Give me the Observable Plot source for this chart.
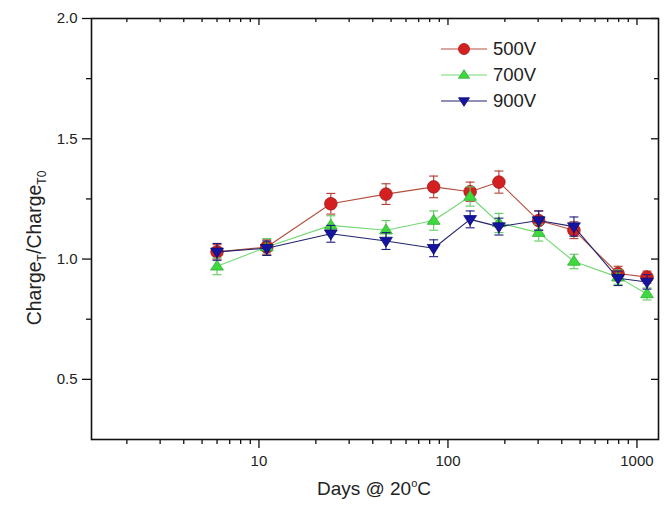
<!DOCTYPE html>
<html>
<head>
<meta charset="utf-8">
<script src="https://cdn.jsdelivr.net/npm/d3@7"></script>
<script src="https://cdn.jsdelivr.net/npm/@observablehq/plot@0.6"></script>
<style>
  html, body { margin: 0; padding: 0; background: #fff; }
  #wrap { position: relative; width: 664px; height: 508px; font-family: "Liberation Sans", Arial, sans-serif; }
  #legend { position: absolute; left: 441px; top: 36px; font-size: 18.5px; color: #222; }
  #legend .row { display: flex; align-items: center; height: 26px; }
  #legend svg { display: block; margin-right: 4px; }
</style>
</head>
<body>
<div id="wrap"></div>
<script>
// ---- data ----
const days = [6, 11, 24, 47, 84, 131, 186, 302, 464, 794, 1130];
const v500 = [1.03, 1.05, 1.23, 1.27, 1.30, 1.28, 1.32, 1.16, 1.12, 0.94, 0.925];
const e500 = [0.03, 0.03, 0.043, 0.043, 0.045, 0.04, 0.046, 0.04, 0.035, 0.03, 0.025];
const v700 = [0.97, 1.05, 1.14, 1.12, 1.16, 1.26, 1.15, 1.11, 0.99, 0.925, 0.855];
const e700 = [0.035, 0.035, 0.04, 0.04, 0.04, 0.04, 0.04, 0.035, 0.03, 0.03, 0.025];
const v900 = [1.03, 1.045, 1.105, 1.075, 1.045, 1.165, 1.135, 1.16, 1.135, 0.92, 0.905];
const e900 = [0.035, 0.03, 0.035, 0.035, 0.035, 0.035, 0.035, 0.04, 0.04, 0.03, 0.03];
const seriesNames = ["500V", "700V", "900V"];

const xMajor = [10, 100, 1000];
const xMinor = [2,3,4,5,6,7,8,9,20,30,40,50,60,70,80,90,200,300,400,500,600,700,800,900];
const yMajor = [0.5, 1.0, 1.5, 2.0];
const yMinor = [0.75, 1.25, 1.75];

// ---- layout ----
const W = 664, H = 508, mL = 91, mR = 6, mT = 18, mB = 69;
const plotW = W - mL - mR, plotH = H - mT - mB;

// ---- styles ----
const styles = {
  "500V": {fill: "#d42020", stroke: "#9c1a1a", line: "#b4503c", err: "#b83a30", symbol: "circle"},
  "700V": {fill: "#3fd83f", stroke: "#2fb02f", line: "#72d872", err: "#5ccc5c", symbol: "up"},
  "900V": {fill: "#1414a0", stroke: "#0c0c70", line: "#22226e", err: "#1c1c80", symbol: "down"}
};

const upTri = {draw(ctx, size) { const r = Math.sqrt(size / Math.PI); const h = r * 1.55;
  ctx.moveTo(0, -h * 0.62); ctx.lineTo(r, h * 0.38); ctx.lineTo(-r, h * 0.38); ctx.closePath(); }};
const downTri = {draw(ctx, size) { const r = Math.sqrt(size / Math.PI); const h = r * 1.55;
  ctx.moveTo(0, h * 0.62); ctx.lineTo(r, -h * 0.38); ctx.lineTo(-r, -h * 0.38); ctx.closePath(); }};
const capSym = {draw(ctx, size) { const r = Math.sqrt(size / Math.PI); ctx.moveTo(-r, 0); ctx.lineTo(r, 0); }};
const symOf = s => s === "circle" ? "circle" : s === "up" ? upTri : downTri;

const valuesBy = {"500V": [v500, e500], "700V": [v700, e700], "900V": [v900, e900]};
const tables = seriesNames.map(name => {
  const [v, e] = valuesBy[name];
  return {name, rows: days.map((d, i) => ({day: d, v: v[i], lo: v[i] - e[i], hi: v[i] + e[i]}))};
});

const marks = [];
for (const {name, rows} of tables) {
  const st = styles[name];
  marks.push(Plot.line(rows, {x: "day", y: "v", stroke: st.line, strokeWidth: 1.1}));
  marks.push(Plot.ruleX(rows, {x: "day", y1: "lo", y2: "hi", stroke: st.err, strokeWidth: 1.1}));
  marks.push(Plot.dot(rows, {x: "day", y: "lo", symbol: capSym, r: 4.5, stroke: st.err, strokeWidth: 1.1}));
  marks.push(Plot.dot(rows, {x: "day", y: "hi", symbol: capSym, r: 4.5, stroke: st.err, strokeWidth: 1.1}));
  marks.push(Plot.dot(rows, {x: "day", y: "v", symbol: symOf(st.symbol), r: st.symbol === "circle" ? 6.3 : 6.4,
    fill: st.fill, stroke: st.stroke, strokeWidth: 0.8}));
}

const axisStyle = {stroke: "#111", strokeWidth: 1.3};

const chart = Plot.plot({
  width: W,
  height: H,
  marginLeft: mL,
  marginRight: mR,
  marginTop: mT,
  marginBottom: mB,
  style: {background: "#fff", fontFamily: "'Liberation Sans', Arial, sans-serif", color: "#222"},
  x: {type: "log", domain: [1.3, 1300]},
  y: {domain: [0.25, 2.0]},
  marks: [
    // bottom axis (outward ticks)
    Plot.axisX(xMajor, {anchor: "bottom", tickSize: 9, tickPadding: 7, fontSize: 15, tickFormat: d => String(d), label: null, ...axisStyle}),
    Plot.axisX(xMinor, {anchor: "bottom", tickSize: 5, text: null, label: null, ...axisStyle}),
    // top inward ticks
    Plot.tickX(xMajor, {x: d => d, insetBottom: plotH - 7, ...axisStyle}),
    Plot.tickX(xMinor, {x: d => d, insetBottom: plotH - 4, ...axisStyle}),
    // left axis (outward ticks)
    Plot.axisY(yMajor, {anchor: "left", tickSize: 9, tickPadding: 5, fontSize: 15, tickFormat: d => d.toFixed(1), label: null, ...axisStyle}),
    Plot.axisY(yMinor, {anchor: "left", tickSize: 5, text: null, label: null, ...axisStyle}),
    // right inward ticks
    Plot.tickY(yMajor, {y: d => d, insetLeft: plotW - 7, ...axisStyle}),
    Plot.tickY(yMinor, {y: d => d, insetLeft: plotW - 4, ...axisStyle}),
    ...marks,
    Plot.frame({stroke: "#111", strokeWidth: 1.6})
  ]
});

const wrap = document.getElementById("wrap");
wrap.appendChild(chart);

// axis titles with sub/superscripts
const svg = d3.select(chart);
const ylab = svg.append("text")
  .attr("transform", "translate(41,248) rotate(-90)")
  .attr("text-anchor", "middle")
  .attr("font-size", 19.5)
  .attr("fill", "#222");
ylab.append("tspan").text("Charge");
ylab.append("tspan").attr("font-size", 12).attr("dy", 5).text("T");
ylab.append("tspan").attr("dy", -5).text("/Charge");
ylab.append("tspan").attr("font-size", 12).attr("dy", 5).text("T0");

const xlab = svg.append("text")
  .attr("x", 374).attr("y", 495)
  .attr("text-anchor", "middle")
  .attr("font-size", 19)
  .attr("fill", "#222");
xlab.append("tspan").text("Days @ 20");
xlab.append("tspan").attr("font-size", 11).attr("dy", -8).text("o");
xlab.append("tspan").attr("dy", 8).text("C");

// legend (HTML overlay, real text)
const legend = document.createElement("div");
legend.id = "legend";
for (const name of seriesNames) {
  const st = styles[name];
  const row = document.createElement("div");
  row.className = "row";
  const s = d3.create("svg").attr("width", 48).attr("height", 20);
  s.append("line").attr("x1", 0).attr("x2", 46).attr("y1", 10).attr("y2", 10).attr("stroke", st.line).attr("stroke-width", 1.1);
  const sym = st.symbol === "circle" ? d3.symbolCircle : (st.symbol === "up" ? upTri : downTri);
  const size = Math.PI * 5.5 * 5.5;
  s.append("path").attr("d", d3.symbol(sym, size)()).attr("transform", "translate(23,10)")
    .attr("fill", st.fill).attr("stroke", st.stroke).attr("stroke-width", 0.8);
  row.appendChild(s.node());
  const t = document.createElement("span");
  t.textContent = name;
  row.appendChild(t);
  legend.appendChild(row);
}
wrap.appendChild(legend);
</script>
</body>
</html>
